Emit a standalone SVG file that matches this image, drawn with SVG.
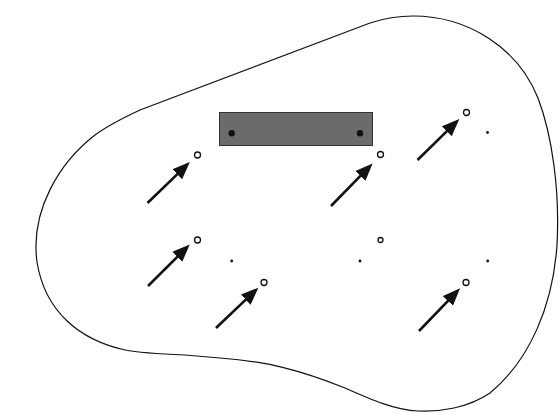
<svg xmlns="http://www.w3.org/2000/svg" width="560" height="413" viewBox="0 0 560 413">
<style>
.outline{fill:none;stroke:#111;stroke-width:1.2}
.ring{fill:#fff;stroke:#111;stroke-width:1.3}
.dot{fill:#111}
.arr{stroke:#111;stroke-width:2.6;fill:none;marker-end:url(#ah)}
</style>
<defs>
<marker id="ah" markerUnits="userSpaceOnUse" markerWidth="18" markerHeight="15" refX="7" refY="7" orient="auto" viewBox="0 0 18 14">
<path d="M0,0 L17.5,7 L0,14 z" fill="#111"/>
</marker>
</defs>
<rect width="560" height="413" fill="#fff"/>
<g id="region">
<path class="outline" d="M413,16 C468,16 518,48 538,98 C552,135 560,190 557,245 C553,305 530,360 490,393 C468,408 440,412 418,411 C395,410 372,400 345,388 C300,370 265,361 220,358 L185,355 C160,354 140,353 125,350 C80,340 45,312 37,262 C30,210 60,162 95,135 C110,124 125,117 140,110 L370,23 C385,18 398,16 413,16 Z"/>
</g>
<g id="bar">
<rect x="219.5" y="112.5" width="153" height="33" fill="#6b6b6b" stroke="#333" stroke-width="1"/>
<circle class="dot" cx="231.7" cy="133.3" r="3.2"/>
<circle class="dot" cx="360" cy="133.3" r="3.2"/>
</g>
<g id="points">
<circle class="ring" cx="197.5" cy="155" r="3"/>
<circle class="ring" cx="380.5" cy="154.5" r="3"/>
<circle class="ring" cx="466.5" cy="112.5" r="3"/>
<circle class="ring" cx="197.5" cy="240" r="3"/>
<circle class="ring" cx="380.5" cy="240" r="2.5"/>
<circle class="ring" cx="264" cy="282.5" r="3"/>
<circle class="ring" cx="466" cy="282.5" r="3"/>
<circle class="dot" cx="487.5" cy="132.5" r="1.4"/>
<circle class="dot" cx="231.7" cy="261" r="1.4"/>
<circle class="dot" cx="360" cy="261" r="1.4"/>
<circle class="dot" cx="487.7" cy="261" r="1.4"/>
</g>
<g id="connectors">
<line class="arr" x1="147.5" y1="203" x2="182.3" y2="169.4"/>
<line class="arr" x1="331" y1="206" x2="365.3" y2="170.9"/>
<line class="arr" x1="417.5" y1="160" x2="451.8" y2="126.4"/>
<line class="arr" x1="148" y1="286" x2="182.3" y2="251.9"/>
<line class="arr" x1="216" y1="328" x2="250.8" y2="294.9"/>
<line class="arr" x1="419" y1="331" x2="452.8" y2="295.9"/>
</g>
</svg>
